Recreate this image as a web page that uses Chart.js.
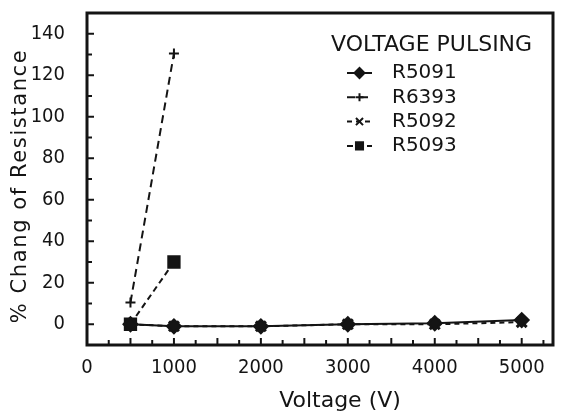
<!DOCTYPE html>
<html>
<head>
<meta charset="utf-8">
<script src="https://cdn.jsdelivr.net/npm/chart.js@4.4.0/dist/chart.umd.min.js"></script>
<style>
  html, body { margin: 0; padding: 0; background: #fff; }
  #wrap { width: 563px; height: 413px; }
</style>
</head>
<body>
<div id="wrap"><canvas id="grafico"></canvas></div>
<script>
'use strict'

// voltage (V) and % change of resistance
const voltR5091 = [500, 1000, 2000, 3000, 4000, 5000];
const chgR5091  = [0, -1, -1, 0, 0.5, 2];
const voltR6393 = [500, 1000];
const chgR6393  = [10.5, 130.5];
const voltR5092 = [500, 1000, 2000, 3000, 4000, 5000];
const chgR5092  = [0, -1, -1, 0, 0, 1];
const voltR5093 = [500, 1000];
const chgR5093  = [0, 30];

const xTickLabels = [0, 1000, 2000, 3000, 4000, 5000];
const yTickLabels = [0, 20, 40, 60, 80, 100, 120, 140];

const ink = '#141414';
const famTick = '"DejaVu Sans Condensed", "DejaVu Sans", sans-serif';
const fam = '"DejaVu Sans", sans-serif';

const pts = (xs, ys) => xs.map((v, i) => ({x: v, y: ys[i]}));

const data = {
  datasets: [
    { label: 'R5091', data: pts(voltR5091, chgR5091), borderColor: ink, backgroundColor: ink,
      borderWidth: 2, pointStyle: 'rectRot', pointRadius: 7, borderDash: [] },
    { label: 'R6393', data: pts(voltR6393, chgR6393), borderColor: ink, backgroundColor: ink,
      borderWidth: 2, pointStyle: 'cross', pointRadius: 5, pointBorderWidth: 2, borderDash: [8, 5] },
    { label: 'R5092', data: pts(voltR5092, chgR5092), borderColor: ink, backgroundColor: ink,
      borderWidth: 2, pointStyle: 'crossRot', pointRadius: 7, pointBorderWidth: 3, borderDash: [5, 4] },
    { label: 'R5093', data: pts(voltR5093, chgR5093), borderColor: ink, backgroundColor: ink,
      borderWidth: 2, pointStyle: 'rect', pointRadius: 8, borderDash: [6, 4] }
  ]
};

// box, inward tick marks, axis titles and the in-plot legend
const frame = {
  id: 'frame',
  afterDraw(chart) {
    const {ctx, chartArea: a, scales: {x, y}} = chart;
    const seg = (x1, y1, x2, y2) => { ctx.beginPath(); ctx.moveTo(x1, y1); ctx.lineTo(x2, y2); ctx.stroke(); };
    ctx.save();
    ctx.strokeStyle = ink;
    ctx.lineWidth = 2;
    x.ticks.forEach(t => {
      const px = x.getPixelForValue(t.value);
      seg(px, a.bottom, px, a.bottom - (t.value % 500 === 0 ? 7 : 5));
    });
    y.ticks.forEach(t => {
      const py = y.getPixelForValue(t.value);
      seg(a.left, py, a.left + (t.value % 20 === 0 ? 7 : 5), py);
    });
    ctx.lineWidth = 3;
    ctx.strokeRect(a.left, a.top, a.right - a.left, a.bottom - a.top);

    ctx.fillStyle = ink;
    ctx.textBaseline = 'middle';

    // axis titles
    ctx.textAlign = 'center';
    ctx.font = '22px ' + fam;
    ctx.fillText('Voltage (V)', (a.left + a.right) / 2 + 20, 401);
    ctx.save();
    ctx.translate(21, (a.top + a.bottom) / 2 + 7);
    ctx.rotate(-Math.PI / 2);
    ctx.font = '21px ' + fam;
    ctx.letterSpacing = '1.6px';
    ctx.fillText('% Chang of Resistance', 0, 0);
    ctx.restore();

    // legend
    ctx.textAlign = 'left';
    ctx.font = '22px ' + fam;
    ctx.fillText('VOLTAGE PULSING', a.left + 244, a.top + 32);
    ctx.font = '20px ' + fam;
    chart.data.datasets.forEach((ds, i) => {
      const cy = a.top + 60 + i * 24.3;
      const sx = a.left + 260;
      ctx.lineWidth = 2;
      ctx.setLineDash(ds.borderDash);
      seg(sx, cy, sx + 25, cy);
      ctx.setLineDash([]);
      Chart.helpers.drawPoint(ctx, {
        pointStyle: ds.pointStyle, radius: Math.min(ds.pointRadius, 6) - 1, rotation: 0,
        borderWidth: ds.pointBorderWidth || 1
      }, sx + 12.5, cy);
      ctx.fillStyle = ink;
      ctx.fillText(ds.label, sx + 45, cy);
    });
    ctx.restore();
  }
};

const config = {
  type: 'scatter',
  data,
  options: {
    responsive: true,
    maintainAspectRatio: false,
    animation: false,
    showLine: true,
    layout: { padding: { top: 13, right: 3, left: 0, bottom: 0 } },
    plugins: { legend: { display: false }, tooltip: { enabled: false } },
    scales: {
      x: {
        type: 'linear', min: 0, max: 5360,
        grid: { display: false }, border: { display: false },
        afterFit: s => { s.height = 68; s.paddingLeft = 0; s.paddingRight = 0; },
        ticks: {
          stepSize: 250, autoSkip: false, includeBounds: false, maxRotation: 0, padding: 3,
          color: ink, font: { family: famTick, size: 20 },
          callback: v => xTickLabels.includes(v) ? String(v) : ''
        }
      },
      y: {
        min: -10, max: 150,
        grid: { display: false }, border: { display: false },
        afterFit: s => { s.width = 87; s.paddingTop = 0; s.paddingBottom = 0; },
        ticks: {
          stepSize: 10, autoSkip: false, includeBounds: false, padding: 14,
          color: ink, font: { family: famTick, size: 20 },
          callback: v => yTickLabels.includes(v) ? String(v) : ''
        }
      }
    }
  },
  plugins: [frame]
};

const grafico = new Chart(document.querySelector('#grafico'), config);
</script>
</body>
</html>
